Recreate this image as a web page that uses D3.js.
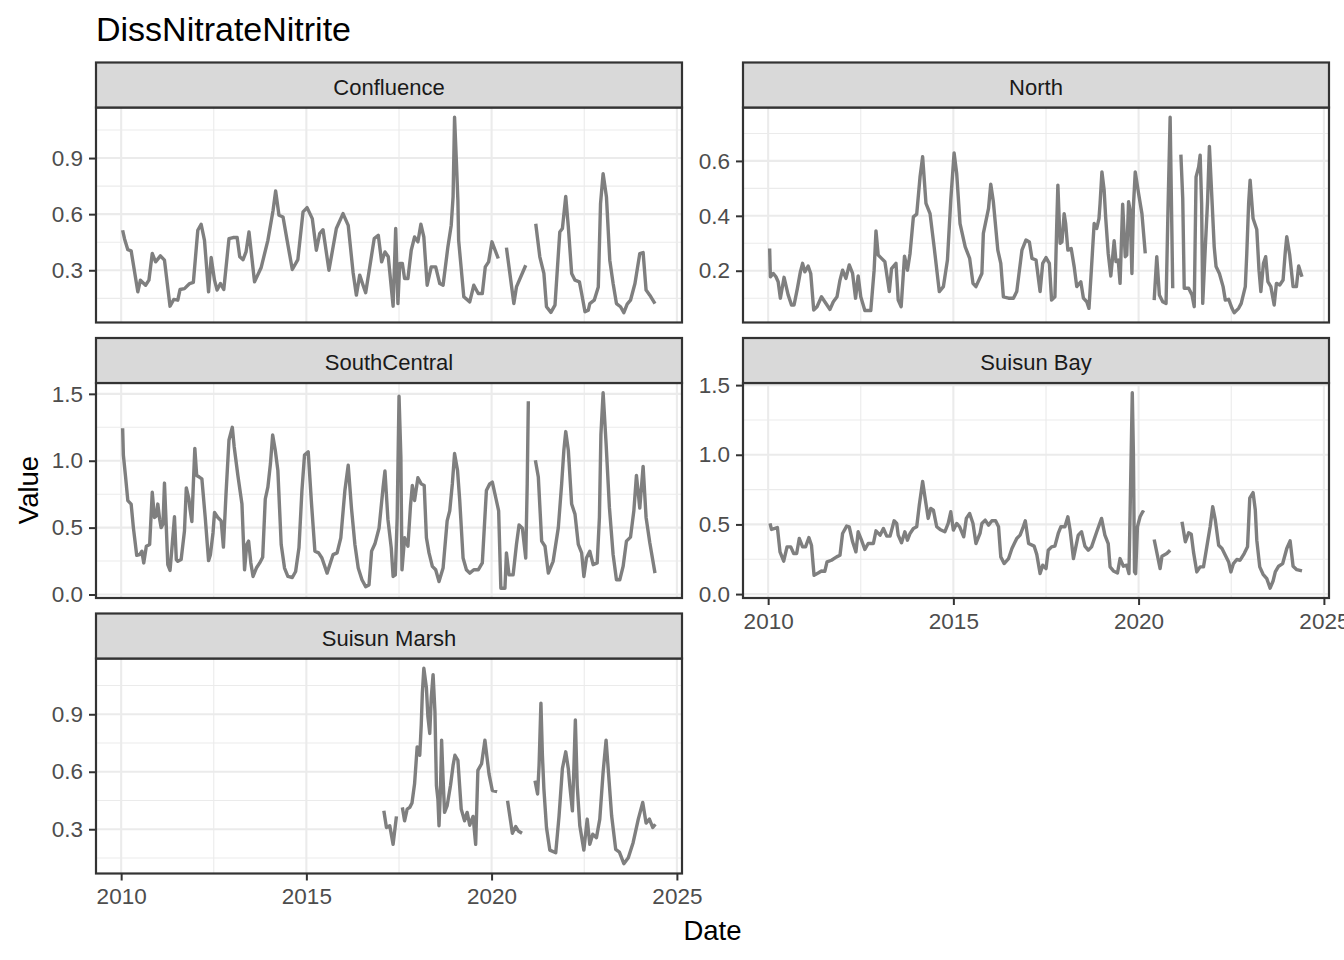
<!DOCTYPE html>
<html><head><meta charset="utf-8">
<script src="https://cdn.jsdelivr.net/npm/d3@7"></script>
<style>body{margin:0;background:#fff} svg{display:block}</style>
</head><body>
<svg id="chart" width="1344" height="960"></svg>
<script>
const chartTitle = "DissNitrateNitrite";
const xTitle = "Date";
const yTitle = "Value";
const facetNames = ["Confluence", "North", "SouthCentral", "Suisun Bay", "Suisun Marsh"];
const xTickYears = [2010, 2015, 2020, 2025];

const confluenceTicks = [0.3, 0.6, 0.9];
const northTicks = [0.2, 0.4, 0.6];
const southCentralTicks = [0.0, 0.5, 1.0, 1.5];
const suisunBayTicks = [0.0, 0.5, 1.0, 1.5];
const suisunMarshTicks = [0.3, 0.6, 0.9];

// decimal years; null value = gap in record
const confluenceDates = [2010.04,2010.09,2010.18,2010.27,2010.45,2010.52,2010.66,2010.75,2010.84,2010.93,2011.06,2011.17,2011.32,2011.42,2011.53,2011.59,2011.71,2011.85,2011.95,2012.07,2012.16,2012.25,2012.36,2012.43,2012.52,2012.59,2012.68,2012.77,2012.91,2013.02,2013.13,2013.20,2013.29,2013.37,2013.45,2013.60,2013.78,2013.96,2014.10,2014.17,2014.26,2014.37,2014.48,2014.62,2014.77,2014.91,2015.02,2015.16,2015.27,2015.36,2015.45,2015.61,2015.81,2015.99,2016.13,2016.26,2016.35,2016.44,2016.53,2016.60,2016.71,2016.83,2016.94,2017.03,2017.12,2017.21,2017.34,2017.41,2017.47,2017.52,2017.59,2017.65,2017.74,2017.83,2017.92,2018.01,2018.09,2018.17,2018.26,2018.37,2018.49,2018.60,2018.69,2018.82,2018.91,2018.96,2019.00,2019.05,2019.09,2019.11,2019.25,2019.41,2019.52,2019.64,2019.75,2019.83,2019.92,2020.01,2020.18,2020.30,2020.40,2020.60,2020.67,2020.92,2021.05,2021.19,2021.30,2021.41,2021.48,2021.60,2021.71,2021.84,2021.91,2022.00,2022.07,2022.16,2022.25,2022.37,2022.43,2022.52,2022.61,2022.65,2022.77,2022.88,2022.94,2023.01,2023.10,2023.19,2023.28,2023.37,2023.48,2023.57,2023.66,2023.75,2023.87,2024.00,2024.09,2024.17,2024.27,2024.41];
const confluenceValues = [0.514,0.469,0.41,0.404,0.185,0.247,0.22,0.247,0.39,0.345,0.377,0.354,0.108,0.144,0.14,0.197,0.202,0.229,0.235,0.514,0.546,0.46,0.185,0.368,0.247,0.194,0.229,0.197,0.469,0.475,0.475,0.372,0.357,0.398,0.505,0.238,0.315,0.46,0.62,0.724,0.594,0.585,0.46,0.304,0.357,0.612,0.635,0.576,0.407,0.496,0.517,0.30,0.523,0.603,0.54,0.29,0.167,0.274,0.22,0.18,0.318,0.469,0.487,0.345,0.398,0.372,0.108,0.523,0.122,0.336,0.336,0.256,0.256,0.407,0.478,0.452,0.546,0.478,0.22,0.318,0.318,0.229,0.22,0.425,0.541,0.692,1.118,0.879,0.674,0.46,0.158,0.131,0.22,0.176,0.176,0.318,0.345,0.452,0.363,null,0.421,0.122,0.211,0.327,null,0.549,0.372,0.283,0.105,0.075,0.114,0.505,0.523,0.695,0.532,0.283,0.247,0.238,0.176,0.078,0.087,0.122,0.14,0.211,0.656,0.816,0.692,0.354,0.229,0.122,0.105,0.073,0.119,0.14,0.229,0.389,0.395,0.194,0.167,0.122];

const northDates = [2010.04,2010.06,2010.14,2010.21,2010.27,2010.33,2010.43,2010.54,2010.63,2010.70,2010.79,2010.87,2010.93,2010.99,2011.08,2011.15,2011.23,2011.32,2011.44,2011.53,2011.67,2011.76,2011.86,2011.94,2012.01,2012.10,2012.19,2012.28,2012.36,2012.43,2012.50,2012.61,2012.77,2012.86,2012.91,2012.97,2013.06,2013.15,2013.27,2013.33,2013.45,2013.51,2013.59,2013.68,2013.76,2013.83,2013.92,2014.01,2014.10,2014.17,2014.26,2014.37,2014.48,2014.62,2014.73,2014.84,2014.93,2015.02,2015.09,2015.18,2015.32,2015.44,2015.53,2015.61,2015.77,2015.81,2015.95,2016.01,2016.08,2016.20,2016.28,2016.35,2016.49,2016.62,2016.71,2016.85,2016.96,2017.05,2017.12,2017.23,2017.34,2017.41,2017.50,2017.59,2017.65,2017.74,2017.79,2017.82,2017.88,2017.93,2017.99,2018.03,2018.09,2018.18,2018.26,2018.33,2018.44,2018.51,2018.60,2018.66,2018.73,2018.80,2018.87,2018.93,2018.96,2019.01,2019.07,2019.11,2019.18,2019.25,2019.30,2019.34,2019.39,2019.45,2019.50,2019.57,2019.64,2019.68,2019.73,2019.77,2019.82,2019.86,2019.91,2020.00,2020.09,2020.18,2020.30,2020.42,2020.49,2020.56,2020.65,2020.74,2020.79,2020.85,2020.92,2021.03,2021.14,2021.19,2021.23,2021.35,2021.44,2021.50,2021.55,2021.62,2021.66,2021.70,2021.73,2021.80,2021.86,2021.91,2021.98,2022.04,2022.09,2022.18,2022.28,2022.34,2022.43,2022.52,2022.58,2022.70,2022.77,2022.88,2022.92,2022.97,2023.01,2023.09,2023.19,2023.25,2023.30,2023.37,2023.43,2023.49,2023.57,2023.66,2023.72,2023.81,2023.90,2023.96,2024.00,2024.08,2024.17,2024.26,2024.32,2024.41];
const northValues = [0.281,0.178,0.19,0.178,0.16,0.10,0.176,0.112,0.075,0.075,0.136,0.196,0.227,0.196,0.217,0.19,0.057,0.069,0.105,0.087,0.059,0.087,0.105,0.166,0.202,0.172,0.221,0.19,0.10,0.181,0.105,0.055,0.055,0.202,0.345,0.257,0.245,0.233,0.124,0.208,0.227,0.093,0.069,0.253,0.202,0.263,0.396,0.406,0.542,0.615,0.445,0.408,0.287,0.124,0.142,0.239,0.457,0.629,0.554,0.372,0.287,0.245,0.154,0.142,0.19,0.336,0.427,0.515,0.451,0.275,0.227,0.105,0.10,0.10,0.124,0.275,0.312,0.305,0.245,0.239,0.124,0.227,0.248,0.227,0.093,0.105,0.372,0.512,0.30,0.305,0.408,0.372,0.275,0.281,0.215,0.142,0.16,0.10,0.087,0.063,0.215,0.372,0.354,0.39,0.445,0.56,0.493,0.396,0.263,0.181,0.251,0.309,0.233,0.239,0.154,0.442,0.251,0.257,0.451,0.421,0.19,0.433,0.56,0.481,0.408,0.263,null,0.093,0.251,0.112,0.087,0.081,0.408,0.759,0.136,null,0.623,0.463,0.136,0.136,0.112,0.069,0.542,0.578,0.621,0.445,0.081,0.287,0.451,0.653,0.457,0.287,0.215,0.19,0.142,0.093,0.096,0.063,0.047,0.063,0.081,0.142,0.263,0.445,0.53,0.39,0.35,0.202,0.124,0.227,0.251,0.16,0.142,0.075,0.154,0.148,0.166,0.269,0.324,0.257,0.142,0.142,0.217,0.178];

const southCentralDates = [2010.04,2010.06,2010.12,2010.18,2010.27,2010.33,2010.42,2010.50,2010.56,2010.61,2010.68,2010.77,2010.84,2010.90,2010.95,2010.99,2011.04,2011.08,2011.13,2011.17,2011.22,2011.26,2011.32,2011.38,2011.44,2011.49,2011.53,2011.62,2011.71,2011.76,2011.83,2011.86,2011.91,2011.95,2011.99,2012.04,2012.11,2012.18,2012.27,2012.36,2012.41,2012.48,2012.52,2012.61,2012.70,2012.76,2012.83,2012.91,2013.00,2013.05,2013.15,2013.26,2013.33,2013.39,2013.44,2013.50,2013.56,2013.65,2013.74,2013.82,2013.89,2013.96,2014.03,2014.09,2014.16,2014.23,2014.32,2014.41,2014.50,2014.62,2014.71,2014.80,2014.88,2014.95,2015.05,2015.14,2015.23,2015.33,2015.42,2015.56,2015.72,2015.83,2015.93,2016.04,2016.13,2016.22,2016.31,2016.40,2016.50,2016.60,2016.69,2016.76,2016.85,2016.96,2017.07,2017.12,2017.20,2017.29,2017.34,2017.40,2017.45,2017.50,2017.55,2017.58,2017.65,2017.74,2017.81,2017.86,2017.92,2018.01,2018.10,2018.18,2018.24,2018.31,2018.40,2018.49,2018.58,2018.69,2018.80,2018.87,2018.94,2019.00,2019.08,2019.14,2019.23,2019.32,2019.41,2019.52,2019.64,2019.75,2019.86,2019.95,2020.02,2020.11,2020.19,2020.25,2020.36,2020.40,2020.47,2020.58,2020.67,2020.74,2020.83,2020.92,2020.96,2020.99,2021.08,2021.18,2021.26,2021.35,2021.44,2021.53,2021.66,2021.80,2021.89,2021.95,2022.00,2022.07,2022.16,2022.25,2022.34,2022.43,2022.49,2022.56,2022.65,2022.74,2022.85,2022.91,2022.95,2023.01,2023.09,2023.18,2023.28,2023.37,2023.46,2023.55,2023.64,2023.75,2023.84,2023.91,2024.00,2024.09,2024.17,2024.27,2024.41];
const southCentralValues = [1.243,1.042,0.878,0.702,0.676,0.50,0.293,0.298,0.324,0.236,0.361,0.374,0.764,0.576,0.588,0.676,0.563,0.50,0.525,0.833,0.50,0.223,0.18,0.374,0.581,0.261,0.248,0.261,0.475,0.797,0.714,0.639,0.545,0.827,1.092,0.89,0.878,0.865,0.576,0.253,0.298,0.462,0.613,0.576,0.55,0.354,0.752,1.155,1.25,1.105,0.89,0.676,0.185,0.374,0.399,0.236,0.135,0.198,0.236,0.278,0.714,0.802,0.979,1.193,1.079,0.928,0.374,0.198,0.135,0.127,0.172,0.349,0.777,1.042,1.067,0.676,0.324,0.311,0.273,0.16,0.298,0.311,0.424,0.777,0.966,0.639,0.374,0.198,0.11,0.059,0.072,0.324,0.379,0.495,0.802,0.923,0.563,0.349,0.135,0.147,0.576,1.482,1.029,0.185,0.424,0.361,0.664,0.815,0.702,0.873,0.827,0.815,0.424,0.311,0.21,0.185,0.097,0.198,0.55,0.626,0.827,1.054,0.928,0.702,0.273,0.185,0.16,0.185,0.185,0.236,0.777,0.827,0.84,0.727,0.626,0.047,0.047,0.311,0.147,0.147,0.374,0.52,0.495,0.273,0.827,1.445,null,1.004,0.878,0.399,0.361,0.16,0.248,0.50,0.827,1.079,1.218,1.079,0.676,0.601,0.374,0.311,0.135,0.273,0.324,0.223,0.236,0.576,1.193,1.508,1.13,0.651,0.298,0.11,0.11,0.21,0.399,0.429,0.626,0.89,0.646,0.958,0.576,0.387,0.16];

const suisunBayDates = [2010.05,2010.09,2010.18,2010.25,2010.32,2010.42,2010.51,2010.61,2010.69,2010.77,2010.84,2010.93,2011.01,2011.10,2011.17,2011.24,2011.35,2011.44,2011.53,2011.59,2011.71,2011.85,2011.94,2012.01,2012.12,2012.19,2012.28,2012.37,2012.43,2012.52,2012.61,2012.70,2012.84,2012.91,2013.02,2013.11,2013.20,2013.29,2013.40,2013.47,2013.51,2013.60,2013.69,2013.76,2013.83,2013.92,2014.01,2014.08,2014.17,2014.23,2014.32,2014.39,2014.46,2014.55,2014.64,2014.77,2014.86,2014.93,2015.00,2015.09,2015.17,2015.28,2015.35,2015.44,2015.53,2015.61,2015.72,2015.77,2015.86,2015.95,2016.04,2016.14,2016.22,2016.28,2016.37,2016.49,2016.58,2016.71,2016.80,2016.87,2016.94,2017.03,2017.18,2017.25,2017.34,2017.41,2017.50,2017.56,2017.65,2017.74,2017.83,2017.90,2018.01,2018.09,2018.15,2018.24,2018.37,2018.46,2018.55,2018.64,2018.73,2018.87,2019.00,2019.09,2019.18,2019.23,2019.32,2019.43,2019.50,2019.59,2019.68,2019.74,2019.77,2019.80,2019.83,2019.86,2019.89,2019.92,2019.97,2020.04,2020.11,2020.15,2020.28,2020.42,2020.58,2020.63,2020.76,2020.85,2021.00,2021.17,2021.26,2021.35,2021.42,2021.48,2021.57,2021.66,2021.75,2021.84,2021.93,2022.00,2022.07,2022.16,2022.25,2022.34,2022.43,2022.49,2022.56,2022.65,2022.74,2022.85,2022.94,2023.00,2023.09,2023.15,2023.19,2023.27,2023.36,2023.46,2023.55,2023.63,2023.69,2023.78,2023.89,2024.00,2024.09,2024.17,2024.27,2024.41];
const suisunBayValues = [0.507,0.464,0.471,0.478,0.303,0.236,0.339,0.339,0.291,0.291,0.399,0.339,0.339,0.406,0.351,0.135,0.151,0.166,0.163,0.231,0.243,0.267,0.279,0.435,0.488,0.483,0.375,0.303,0.447,0.387,0.32,0.363,0.363,0.454,0.423,0.471,0.416,0.416,0.526,0.507,0.423,0.368,0.447,0.387,0.435,0.471,0.483,0.639,0.808,0.70,0.543,0.615,0.603,0.483,0.464,0.447,0.507,0.591,0.459,0.507,0.483,0.411,0.543,0.579,0.507,0.363,0.435,0.507,0.531,0.495,0.526,0.526,0.483,0.267,0.219,0.255,0.327,0.399,0.423,0.471,0.526,0.363,0.344,0.285,0.147,0.207,0.183,0.315,0.339,0.344,0.435,0.483,0.483,0.555,0.459,0.255,0.423,0.447,0.344,0.315,0.339,0.447,0.543,0.423,0.363,0.195,0.166,0.151,0.255,0.20,0.207,0.147,0.567,1.012,1.445,1.012,0.159,0.147,0.483,0.555,0.591,0.584,null,0.392,0.183,0.272,0.291,0.315,null,0.519,0.375,0.44,0.43,0.303,0.159,0.195,0.195,0.339,0.483,0.627,0.531,0.351,0.327,0.279,0.231,0.159,0.219,0.248,0.243,0.291,0.339,0.688,0.728,0.603,0.387,0.195,0.142,0.111,0.042,0.094,0.159,0.20,0.219,0.327,0.382,0.20,0.175,0.166];

const suisunMarshDates = [2017.09,2017.16,2017.25,2017.34,2017.43,2017.51,2017.59,2017.65,2017.72,2017.79,2017.85,2017.92,2017.99,2018.06,2018.10,2018.13,2018.17,2018.24,2018.28,2018.33,2018.37,2018.42,2018.47,2018.51,2018.55,2018.58,2018.62,2018.65,2018.69,2018.73,2018.80,2018.89,2018.96,2019.01,2019.09,2019.18,2019.27,2019.34,2019.41,2019.50,2019.57,2019.63,2019.73,2019.82,2019.93,2020.02,2020.15,2020.30,2020.43,2020.56,2020.65,2020.72,2020.82,2021.00,2021.17,2021.24,2021.28,2021.33,2021.37,2021.41,2021.48,2021.57,2021.73,2021.82,2021.91,2022.00,2022.07,2022.11,2022.18,2022.22,2022.26,2022.31,2022.38,2022.49,2022.58,2022.65,2022.73,2022.83,2022.92,2023.01,2023.09,2023.15,2023.24,2023.35,2023.45,2023.57,2023.69,2023.82,2023.96,2024.08,2024.17,2024.26,2024.35,2024.42];
const suisunMarshValues = [0.396,0.309,0.318,0.221,0.367,null,0.414,0.344,0.405,0.414,0.437,0.537,0.73,0.686,0.844,1.01,1.14,1.037,0.888,0.80,0.984,1.107,0.914,0.528,0.458,0.318,0.511,0.765,0.563,0.388,0.423,0.528,0.633,0.686,0.66,0.405,0.344,0.388,0.321,0.367,0.221,0.607,0.642,0.765,0.589,0.502,0.496,null,0.449,0.279,0.314,0.291,0.279,null,0.554,0.484,0.633,0.958,0.686,0.511,0.309,0.191,0.177,0.37,0.616,0.704,0.616,0.528,0.396,0.616,0.87,0.528,0.318,0.191,0.353,0.221,0.274,0.256,0.353,0.598,0.765,0.607,0.37,0.195,0.181,0.12,0.151,0.23,0.353,0.44,0.332,0.353,0.309,0.326];

// ---------------- drawing ----------------
function toDate(y) {
  const yr = Math.floor(y);
  const s = Date.UTC(yr, 0, 1), e = Date.UTC(yr + 1, 0, 1);
  return new Date(s + (y - yr) * (e - s));
}
function series(dates, values) {
  return dates.map((d, i) => ({ date: toDate(d), value: values[i] }));
}

const facets = [
  { name: facetNames[0], data: series(confluenceDates, confluenceValues), ticks: confluenceTicks, col: 0, row: 0, xAxis: false },
  { name: facetNames[1], data: series(northDates, northValues), ticks: northTicks, col: 1, row: 0, xAxis: false },
  { name: facetNames[2], data: series(southCentralDates, southCentralValues), ticks: southCentralTicks, col: 0, row: 1, xAxis: false },
  { name: facetNames[3], data: series(suisunBayDates, suisunBayValues), ticks: suisunBayTicks, col: 1, row: 1, xAxis: true },
  { name: facetNames[4], data: series(suisunMarshDates, suisunMarshValues), ticks: suisunMarshTicks, col: 0, row: 2, xAxis: true }
];

const FONT = "'Liberation Sans', Arial, Helvetica, sans-serif";
const colX = [96, 743];
const stripTop = [62.5, 338, 613.5];
const stripH = 45, panelW = 586, panelH = 215;

const svg = d3.select("#chart").style("font-family", FONT);
svg.append("rect").attr("width", 1344).attr("height", 960).attr("fill", "#fff");

// shared x scale (ggplot-style 5% expansion)
const allDates = facets.flatMap(f => f.data.map(d => +d.date));
const xMin = d3.min(allDates), xMax = d3.max(allDates);
const xPad = (xMax - xMin) * 0.05;
const xDomain = [new Date(xMin - xPad), new Date(xMax + xPad)];
const xMajor = xTickYears.map(y => toDate(y));
const xMinor = d3.range(xTickYears[0] - 2.5, xTickYears[xTickYears.length - 1] + 5, 5).map(toDate)
  .filter(d => d >= xDomain[0] && d <= xDomain[1]);

facets.forEach(f => {
  const px = colX[f.col], st = stripTop[f.row], py = st + stripH;
  const x = d3.scaleUtc().domain(xDomain).range([0, panelW]);
  const vals = f.data.map(d => d.value).filter(v => v != null);
  const lo = d3.min(vals), hi = d3.max(vals), pad = (hi - lo) * 0.05;
  const y = d3.scaleLinear().domain([lo - pad, hi + pad]).range([panelH, 0]);
  const step = f.ticks[1] - f.ticks[0];
  const yMinor = d3.range(f.ticks[0] - step / 2, f.ticks[f.ticks.length - 1] + step, step)
    .filter(v => v >= y.domain()[0] && v <= y.domain()[1]);

  const g = svg.append("g").attr("transform", `translate(${px},${py})`);
  g.append("rect").attr("width", panelW).attr("height", panelH).attr("fill", "#fff");

  // grid
  g.selectAll(".ymin").data(yMinor).join("line")
    .attr("x1", 0).attr("x2", panelW).attr("y1", d => y(d)).attr("y2", d => y(d))
    .attr("stroke", "#EBEBEB").attr("stroke-width", 1.1);
  g.selectAll(".xmin").data(xMinor).join("line")
    .attr("y1", 0).attr("y2", panelH).attr("x1", d => x(d)).attr("x2", d => x(d))
    .attr("stroke", "#EBEBEB").attr("stroke-width", 1.1);
  g.selectAll(".ymaj").data(f.ticks).join("line")
    .attr("x1", 0).attr("x2", panelW).attr("y1", d => y(d)).attr("y2", d => y(d))
    .attr("stroke", "#EBEBEB").attr("stroke-width", 2.1);
  g.selectAll(".xmaj").data(xMajor.filter(d => d >= xDomain[0] && d <= xDomain[1])).join("line")
    .attr("y1", 0).attr("y2", panelH).attr("x1", d => x(d)).attr("x2", d => x(d))
    .attr("stroke", "#EBEBEB").attr("stroke-width", 2.1);

  // data line
  const line = d3.line().defined(d => d.value != null).x(d => x(d.date)).y(d => y(d.value));
  g.append("path").datum(f.data).attr("d", line)
    .attr("fill", "none").attr("stroke", "#7F7F7F").attr("stroke-width", 3.4)
    .attr("stroke-linejoin", "round").attr("stroke-linecap", "butt");

  // border
  g.append("rect").attr("width", panelW).attr("height", panelH)
    .attr("fill", "none").attr("stroke", "#333333").attr("stroke-width", 2.2);

  // strip
  svg.append("rect").attr("x", px).attr("y", st).attr("width", panelW).attr("height", stripH)
    .attr("fill", "#D9D9D9").attr("stroke", "#333333").attr("stroke-width", 2.2);
  svg.append("text").attr("x", px + panelW / 2).attr("y", st + stripH / 2 + 9.5)
    .attr("text-anchor", "middle").attr("font-size", 22).attr("fill", "#1A1A1A").text(f.name);

  // y axis
  const ya = g.append("g").call(d3.axisLeft(y).tickValues(f.ticks).tickSize(7).tickPadding(6)
    .tickFormat(d3.format(".1f")));
  ya.select(".domain").remove();
  ya.selectAll("line").attr("stroke", "#333333").attr("stroke-width", 2);
  ya.selectAll("text").attr("font-size", 22.5).attr("fill", "#4D4D4D").attr("font-family", FONT);

  if (f.xAxis) {
    const xa = g.append("g").attr("transform", `translate(0,${panelH})`)
      .call(d3.axisBottom(x).tickValues(xMajor).tickSize(7).tickPadding(8).tickFormat(d3.utcFormat("%Y")));
    xa.select(".domain").remove();
    xa.selectAll("line").attr("stroke", "#333333").attr("stroke-width", 2);
    xa.selectAll("text").attr("font-size", 22.5).attr("fill", "#4D4D4D").attr("font-family", FONT);
  }
});

// titles
svg.append("text").attr("x", 96).attr("y", 41).attr("font-size", 34).attr("fill", "#000").text(chartTitle);
svg.append("text").attr("x", 712.5).attr("y", 940).attr("text-anchor", "middle")
  .attr("font-size", 27.5).attr("fill", "#000").text(xTitle);
svg.append("text").attr("transform", "translate(38,490) rotate(-90)").attr("text-anchor", "middle")
  .attr("font-size", 27.5).attr("fill", "#000").text(yTitle);
</script>
</body></html>
